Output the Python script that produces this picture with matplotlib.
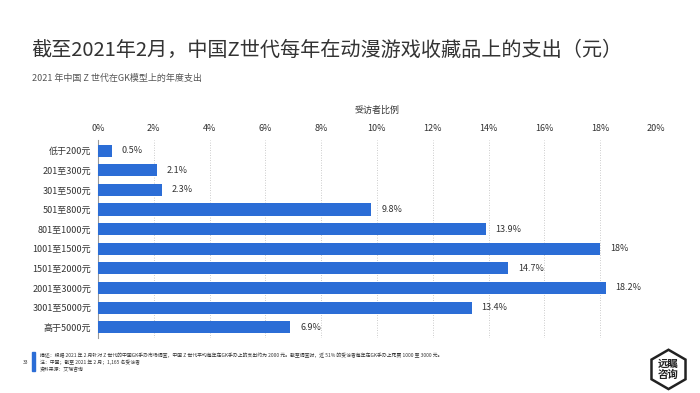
import numpy as np
import matplotlib.pyplot as plt
from matplotlib.patches import RegularPolygon, Rectangle

plt.rcParams['font.family'] = ['Noto Sans CJK SC', 'DejaVu Sans']

# Data
categories = ['低于200元', '201至300元', '301至500元', '501至800元', '801至1000元',
              '1001至1500元', '1501至2000元', '2001至3000元', '3001至5000元', '高于5000元']
values = [0.5, 2.1, 2.3, 9.8, 13.9, 18.0, 14.7, 18.2, 13.4, 6.9]
value_labels = ['0.5%', '2.1%', '2.3%', '9.8%', '13.9%', '18%', '14.7%', '18.2%', '13.4%', '6.9%']
x_ticks = [0, 2, 4, 6, 8, 10, 12, 14, 16, 18, 20]

bar_color = '#2b6dd6'

fig = plt.figure(figsize=(7, 3.93), dpi=100)
ax = fig.add_axes([0.14, 0.14, 0.797, 0.504])

y = np.arange(len(categories))
ax.barh(y, values, height=0.62, color=bar_color, zorder=3)
for yi, v, lab in zip(y, values, value_labels):
    ax.text(v + 0.35, yi, lab, va='center', ha='left', fontsize=6.5, color='#333333')

ax.set_ylim(len(categories) - 0.45, -0.55)
ax.set_xlim(0, 20)
ax.set_yticks(y)
ax.set_yticklabels(categories, fontsize=6.5, color='#333333')
ax.set_xticks(x_ticks)
ax.set_xticklabels([f'{t}%' for t in x_ticks], fontsize=6.5, color='#333333')
ax.xaxis.tick_top()
ax.xaxis.set_label_position('top')
ax.set_xlabel('受访者比例', fontsize=6.5, color='#333333', labelpad=8)
ax.tick_params(axis='both', length=0, pad=5)
ax.grid(axis='x', linestyle=(0, (1, 2)), color='#bbbbbb', linewidth=0.6, zorder=0)
for s in ['top', 'right', 'bottom']:
    ax.spines[s].set_visible(False)
ax.spines['left'].set_color('#999999')
ax.spines['left'].set_linewidth(0.8)

# Titles
fig.text(0.045, 0.872, '截至2021年2月，中国Z世代每年在动漫游戏收藏品上的支出（元）',
         fontsize=14.5, color='#333333', va='center')
fig.text(0.045, 0.8, '2021 年中国 Z 世代在GK模型上的年度支出', fontsize=6.5, color='#555555', va='center')

# Footnote
fig.text(0.033, 0.078, '33', fontsize=3.5, color='#333333', va='center')
fig.add_artist(Rectangle((0.046, 0.055), 0.004, 0.05, transform=fig.transFigure, color=bar_color))
foot = ('描述：根据 2021 年 2 月针对 Z 世代的中国GK手办市场调查，中国 Z 世代平均每年在GK手办上的支出约为 2000 元。'
        '截至调查时，近 51% 的受访者每年在GK手办上花费 1000 至 3000 元。\n'
        '注：中国；截至 2021 年 2 月；1,165 名受访者\n'
        '资料来源：艾瑞咨询')
fig.text(0.057, 0.078, foot, fontsize=3.5, color='#333333', va='center', linespacing=1.4)

# Logo
lax = fig.add_axes([0.9, 0.0, 0.11, 0.12])
lax.set_aspect('equal')
lax.set_xlim(-1.2, 1.2)
lax.set_ylim(-1.2, 1.2)
lax.axis('off')
lax.add_patch(RegularPolygon((0, 0), numVertices=6, radius=1.0, orientation=0,
                             facecolor='white', edgecolor='#222222', linewidth=1.8))
lax.text(0, 0, '远瞩\n咨询', fontsize=7.5, fontweight='bold', ha='center', va='center',
         color='#222222', linespacing=1.1)

fig.savefig('out.png', dpi=100, facecolor='white')
